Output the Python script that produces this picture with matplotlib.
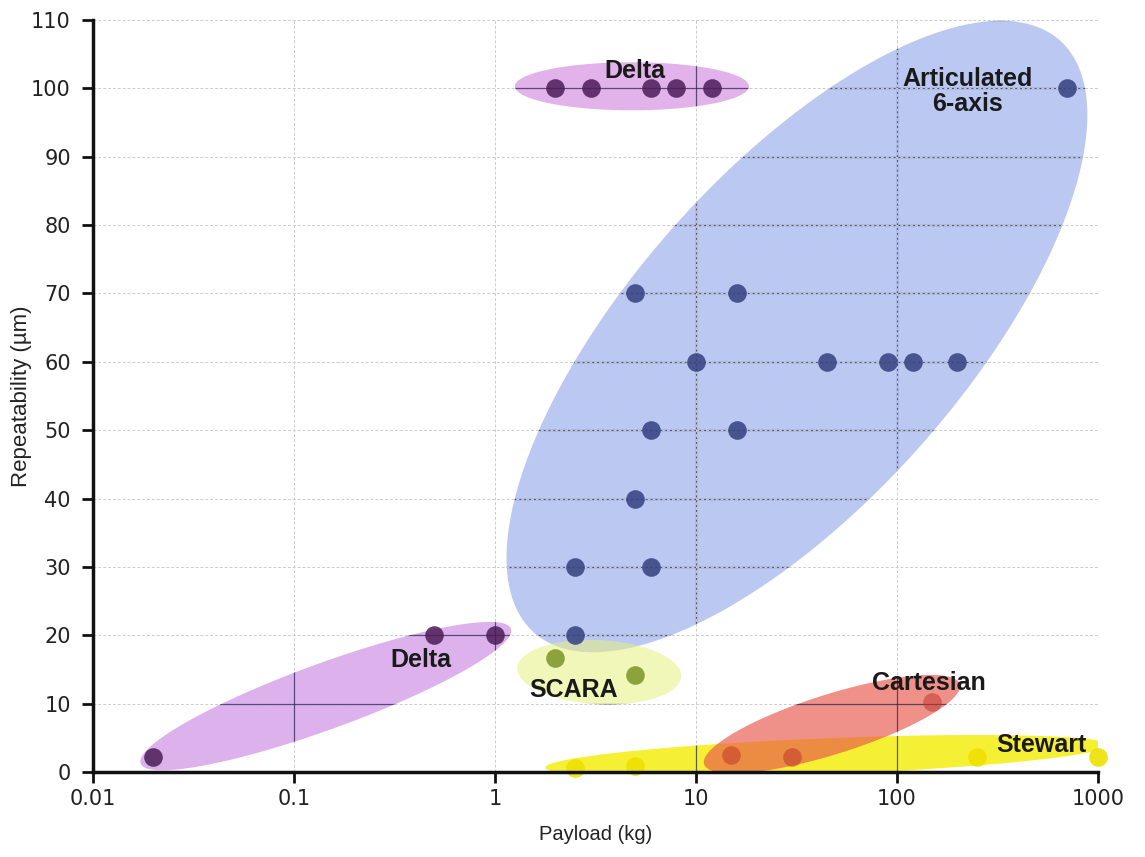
import numpy as np
import matplotlib.pyplot as plt

# values: payload (kg) vs repeatability (um)
articulated_x = [700, 5, 16, 10, 45, 90, 120, 200, 6, 16, 5, 2.5, 6, 2.5]
articulated_y = [100, 70, 70, 60, 60, 60, 60, 60, 50, 50, 40, 30, 30, 20]
delta_x = [2, 3, 6, 8, 12, 0.02, 0.5, 1]
delta_y = [100, 100, 100, 100, 100, 2.2, 20, 20]
scara_x = [2, 5]
scara_y = [16.7, 14.2]
cartesian_x = [15, 30, 150]
cartesian_y = [2.5, 2.2, 10.2]
stewart_x = [2.5, 5, 250, 1000]
stewart_y = [0.6, 0.9, 2.2, 2.2]

xticks = [0.01, 0.1, 1, 10, 100, 1000]
xlabels = ["0.01", "0.1", "1", "10", "100", "1000"]
yticks = list(range(0, 111, 10))

fig = plt.figure(figsize=(11.45, 8.57), dpi=100)
ax = fig.add_axes([0.0812, 0.0992, 0.8777, 0.8775])
ax.set_xscale("log")
ax.set_xlim(0.01, 1000)
ax.set_ylim(0, 110)

# pixel scale of the axes, used to shape the group ellipses
W = 1145 * 0.8777
H = 857 * 0.8775
sx = W / 5.0
sy = H / 110.0


def blob(xc, yc, a, b, ang, color, alpha, z):
    t = np.linspace(0, 2 * np.pi, 200)
    th = np.radians(ang)
    px = a * np.cos(t) * np.cos(th) - b * np.sin(t) * np.sin(th)
    py = a * np.cos(t) * np.sin(th) + b * np.sin(t) * np.cos(th)
    xs = 10 ** (np.log10(xc) + px / sx)
    ys = yc + py / sy
    poly = ax.fill(xs, ys, color=color, alpha=alpha, lw=0, zorder=z)[0]
    # grid shows darker through the coloured regions
    hl = ax.hlines(yticks[1:], 0.01, 1000, colors="#22224a", lw=0.9, alpha=0.7, zorder=z + 0.1)
    vl = ax.vlines(xticks[1:-1], 0, 110, colors="#22224a", lw=0.9, alpha=0.7, zorder=z + 0.1)
    hl.set_clip_path(poly)
    vl.set_clip_path(poly)
    return poly


ax.grid(True, which="major", color="#cccccc", ls=(0, (3, 2)), lw=0.7, zorder=0)
ax.minorticks_off()

blob(31.8, 63.7, 396, 165, 48.4, "#8ea4ea", 0.6, 1)
blob(4.8, 100.3, 117, 24, 0, "#cf80dc", 0.6, 2)
blob(0.144, 11.1, 197, 33, 20, "#c77fe0", 0.6, 2)
blob(3.3, 14.6, 82, 32, -3, "#e6ef80", 0.55, 2)
blob(44.9, 2.3, 282, 18, 2.3, "#f5ee10", 0.85, 2)
blob(47.5, 7.0, 134, 30, 17.4, "#e8564a", 0.65, 3)

ax.scatter(articulated_x, articulated_y, s=180, color="#33407f", alpha=0.85, lw=0, zorder=5, clip_on=False)
ax.scatter(delta_x, delta_y, s=180, color="#4a1c58", alpha=0.85, lw=0, zorder=5, clip_on=False)
ax.scatter(scara_x, scara_y, s=180, color="#7d9426", alpha=0.85, lw=0, zorder=5, clip_on=False)
ax.scatter(cartesian_x, cartesian_y, s=180, color="#c0392b", alpha=0.55, lw=0, zorder=5, clip_on=False)
ax.scatter(stewart_x, stewart_y, s=180, color="#eee000", alpha=0.9, lw=0, zorder=5, clip_on=False)

tkw = dict(fontsize=18, fontweight="bold", color="#1a1a1a", ha="center", va="center",
           family="Liberation Sans", zorder=6)
ax.text(4.97, 102.5, "Delta", **tkw)
ax.text(225, 99.6, "Articulated\n6-axis", linespacing=1.05, **tkw)
ax.text(0.43, 16.4, "Delta", **tkw)
ax.text(2.47, 12.0, "SCARA", **tkw)
ax.text(144, 13.0, "Cartesian", **tkw)
ax.text(526, 4.0, "Stewart", **tkw)

ax.set_xticks(xticks)
ax.set_xticklabels(xlabels)
ax.set_yticks(yticks)
for lab in ax.get_xticklabels() + ax.get_yticklabels():
    lab.set_family("DejaVu Sans")
    lab.set_fontsize(15)
    lab.set_color("#222222")
ax.tick_params(axis="both", direction="out", length=8, width=2, color="#111111")
ax.tick_params(axis="y", pad=8)
ax.tick_params(axis="x", pad=4)

for s in ["top", "right"]:
    ax.spines[s].set_visible(False)
for s in ["left", "bottom"]:
    ax.spines[s].set_linewidth(2.5)
    ax.spines[s].set_color("#111111")
    ax.spines[s].set_zorder(7)

ax.set_xlabel("Payload (kg)", fontsize=14.5, family="Liberation Sans", color="#222222", labelpad=12)
ax.set_ylabel("Repeatability (µm)", fontsize=16, family="Liberation Sans", color="#222222")
ax.yaxis.set_label_coords(-0.061, 0.5)

fig.savefig("out.png", dpi=100)
